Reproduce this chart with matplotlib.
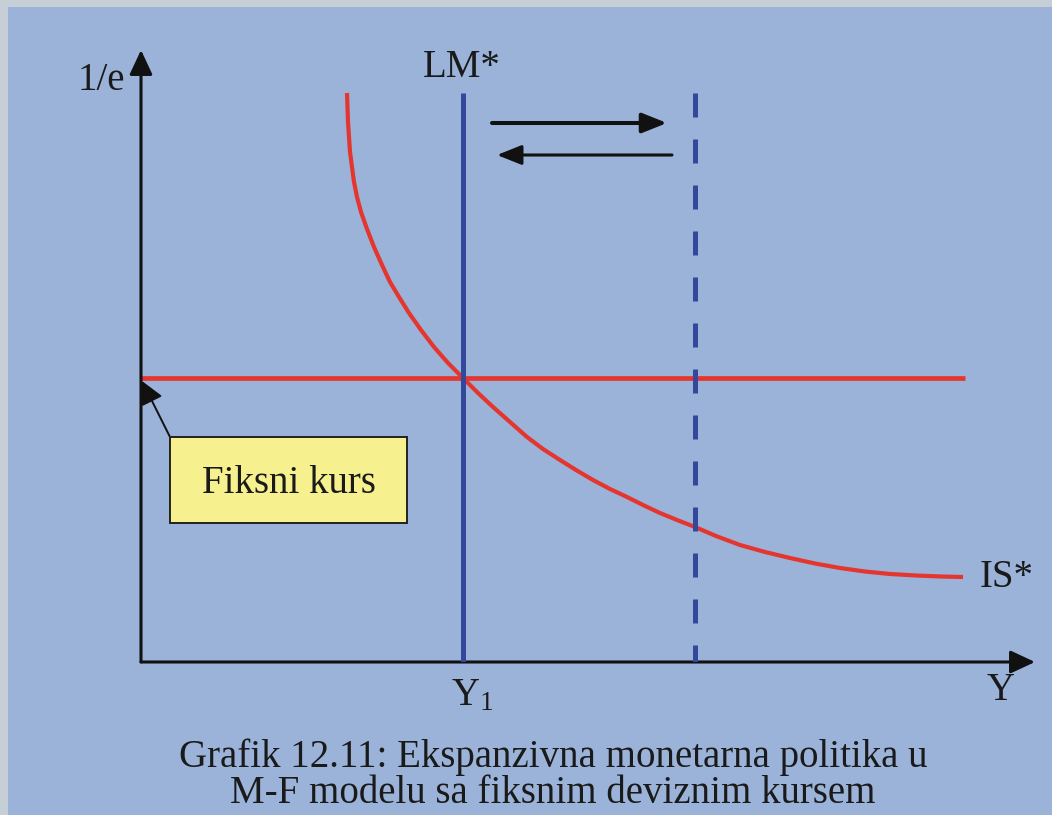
import matplotlib
matplotlib.use("Agg")
import matplotlib.pyplot as plt
from matplotlib.patches import Rectangle

plt.rcParams['font.family'] = ['Liberation Serif', 'DejaVu Serif']
plt.rcParams['mathtext.fontset'] = 'custom'
plt.rcParams['mathtext.rm'] = 'Liberation Serif'
plt.rcParams['mathtext.it'] = 'Liberation Serif:italic'

# diagram units (origin = where the two axes meet)
x_max, y_max = 894, 612
y1_pos = 322          # LM* (initial)
y2_pos = 554          # LM* after expansion (dashed)
fixed_rate = 284      # fiksni kurs level
line_top = 569
fixed_end = 824

# IS* curve
is_x = [206, 206.5, 207, 208, 209, 211, 213, 216, 220, 226, 233, 241, 249, 258, 268,
        280, 293, 307, 322, 337, 352, 369, 386, 402, 419, 435, 452, 469, 486, 502,
        519, 536, 554, 575, 599, 624, 649, 674, 699, 724, 749, 775, 800, 822]
is_y = [569, 555, 540, 525, 510, 495, 480, 465, 450, 433, 415, 397, 380, 365, 349,
        332, 315, 299, 284, 269, 255, 240, 225, 213, 202, 192, 182, 173, 165, 157,
        149, 142, 135, 126, 117, 110, 104, 98.5, 94, 90.5, 88, 86.5, 85.5, 85]

caption = ["Grafik 12.11: Ekspanzivna monetarna politika u",
           "M-F modelu sa fiksnim deviznim kursem"]

bg_blue = '#9bb3d9'
red = '#e4362f'
dark_blue = '#34489b'
ink = '#111111'
txt = '#1a1a1a'

W, H = 1052, 815
fig = plt.figure(figsize=(W / 100, H / 100), dpi=100, facecolor='#c6cfd6')
fig.add_artist(Rectangle((8 / W, 0), 1, 1 - 7 / H, transform=fig.transFigure,
                         facecolor=bg_blue, edgecolor='none', zorder=-10))

ax = fig.add_axes([141 / W, 153 / H, x_max / W, y_max / H])
ax.set_xlim(0, x_max)
ax.set_ylim(0, y_max)
ax.axis('off')
ax.patch.set_alpha(0)

# axes with arrow heads
ax_arrow = dict(arrowstyle='-|>,head_length=15,head_width=7', color=ink, lw=2.2,
                shrinkA=0, shrinkB=0, mutation_scale=1)
ax.annotate('', xy=(0, y_max), xytext=(0, 0), arrowprops=ax_arrow, annotation_clip=False)
ax.annotate('', xy=(x_max, 0), xytext=(0, 0), arrowprops=ax_arrow, annotation_clip=False)

# fixed exchange rate and IS*
ax.plot([0, fixed_end], [fixed_rate, fixed_rate], color=red, lw=3.4, solid_capstyle='butt')
ax.plot(is_x, is_y, color=red, lw=3.0, solid_capstyle='butt', solid_joinstyle='round')

# LM* lines
ax.plot([y1_pos, y1_pos], [0, line_top], color=dark_blue, lw=3.6, solid_capstyle='butt', zorder=3)
ax.plot([y2_pos, y2_pos], [line_top, 0], color=dark_blue, lw=3.6,
        linestyle=(0, (4.8, 4.4)), dash_capstyle='butt', zorder=3)

# shift arrows
ax.annotate('', xy=(526, 539), xytext=(351, 539), annotation_clip=False,
            arrowprops=dict(arrowstyle='-|>,head_length=15,head_width=6', color=ink, lw=2.9,
                            shrinkA=0, shrinkB=0, mutation_scale=1))
ax.annotate('', xy=(356, 507), xytext=(531, 507), annotation_clip=False,
            arrowprops=dict(arrowstyle='-|>,head_length=15,head_width=6', color=ink, lw=2.2,
                            shrinkA=0, shrinkB=0, mutation_scale=1))

# label box
ax.add_patch(Rectangle((29, 139), 237, 86, facecolor='#f6f18e', edgecolor='#222222', lw=1.4, zorder=4))
ax.text(147.5, 169, 'Fiksni kurs', ha='center', va='baseline', fontsize=28, color=txt, zorder=5)
ax.annotate('', xy=(1, 281), xytext=(29, 225), annotation_clip=False,
            arrowprops=dict(arrowstyle='-|>,head_length=14,head_width=7', color=ink, lw=1.4,
                            shrinkA=0, shrinkB=0, mutation_scale=1))

# labels
ax.text(-40, 572, '1/e', ha='center', va='baseline', fontsize=28, color=txt, clip_on=False)
ax.text(321, 585, 'LM*', ha='center', va='baseline', fontsize=28, color=txt, clip_on=False)
ax.text(839, 75, 'IS*', ha='left', va='baseline', fontsize=28, color=txt, clip_on=False)
ax.text(860, -38, 'Y', ha='center', va='baseline', fontsize=28, color=txt, clip_on=False)
ax.text(331, -43, r'$\mathrm{Y}_1$', ha='center', va='baseline', fontsize=28, color=txt, clip_on=False)

ax.text(412, -105, caption[0], ha='center', va='baseline', fontsize=28, color=txt, clip_on=False)
ax.text(412, -141, caption[1], ha='center', va='baseline', fontsize=28, color=txt, clip_on=False)

fig.savefig('out.png', dpi=100, facecolor=fig.get_facecolor())
